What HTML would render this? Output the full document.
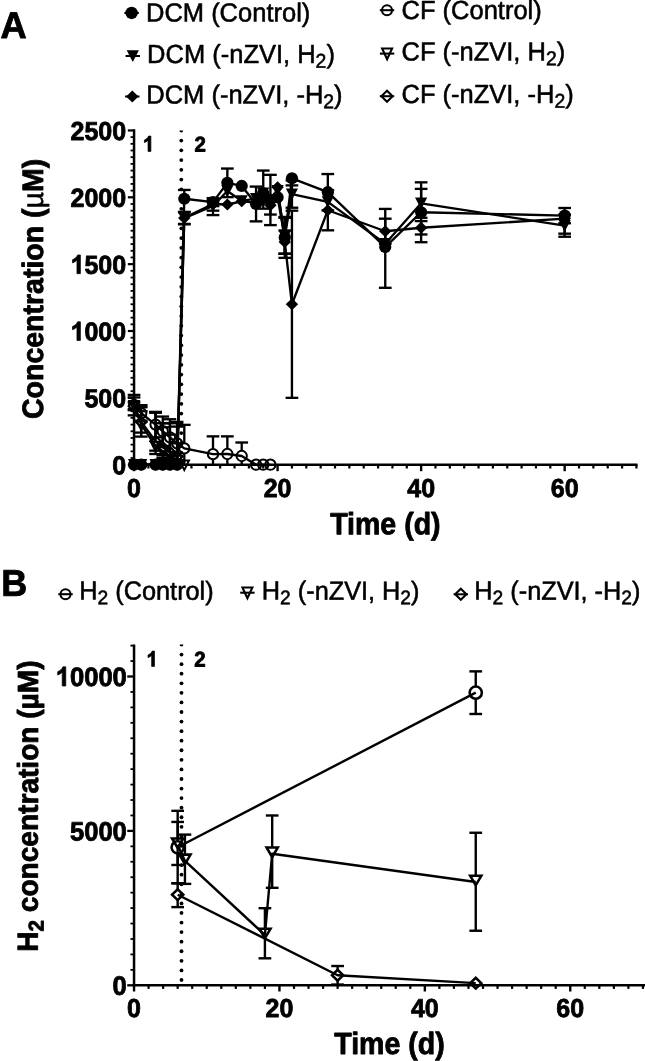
<!DOCTYPE html>
<html><head><meta charset="utf-8"><title>Figure</title>
<style>
html,body{margin:0;padding:0;background:#fff;}
body{width:645px;height:1061px;overflow:hidden;font-family:"Liberation Sans",sans-serif;}
svg{display:block;will-change:transform;}
</style></head><body>
<svg width="645" height="1061" viewBox="0 0 645 1061">
<rect width="645" height="1061" fill="#fff"/>
<text transform="translate(0.5,38) rotate(0.03) scale(1,1.03)" font-size="36.3" font-family="Liberation Sans, sans-serif" font-weight="bold" stroke="#000" stroke-width="0.8" stroke-linejoin="round" text-anchor="start" fill="#000" >A</text>
<text transform="translate(1.3,595.8) rotate(0.03) scale(1,1.03)" font-size="36.0" font-family="Liberation Sans, sans-serif" font-weight="bold" stroke="#000" stroke-width="0.8" stroke-linejoin="round" text-anchor="start" fill="#000" >B</text>
<line x1="124.4" y1="12.95" x2="138.8" y2="12.95" stroke="#000" stroke-width="2.05" />
<circle cx="131.6" cy="12.95" r="6.2" fill="#000"/>
<text transform="translate(146,21.5) rotate(0.03) scale(1,1.03)" font-size="25.5" font-family="Liberation Sans, sans-serif" fill="#000" stroke="#000" stroke-width="0.55" stroke-linejoin="round">DCM (Control)</text>
<line x1="125.6" y1="56" x2="140" y2="56" stroke="#000" stroke-width="2.05" />
<path d="M126.7 50.3L138.9 50.3L132.8 62Z" fill="#000"/>
<text transform="translate(147.1,62.9) rotate(0.03) scale(1,1.03)" font-size="25.5" font-family="Liberation Sans, sans-serif" fill="#000" stroke="#000" stroke-width="0.55" stroke-linejoin="round">DCM (-nZVI, H<tspan font-size="19.38" dy="4.59">2</tspan><tspan dy="-4.59">)</tspan></text>
<line x1="125.1" y1="96.5" x2="139.5" y2="96.5" stroke="#000" stroke-width="2.05" />
<path d="M126.1 96.5L132.3 90.4L138.5 96.5L132.3 102.6Z" fill="#000"/>
<text transform="translate(146.3,103.5) rotate(0.03) scale(1,1.03)" font-size="25.5" font-family="Liberation Sans, sans-serif" fill="#000" stroke="#000" stroke-width="0.55" stroke-linejoin="round">DCM (-nZVI, -H<tspan font-size="19.38" dy="4.59">2</tspan><tspan dy="-4.59">)</tspan></text>
<line x1="379.8" y1="10.2" x2="394.2" y2="10.2" stroke="#000" stroke-width="2.05" />
<circle cx="387" cy="10.2" r="5" fill="none" stroke="#000" stroke-width="2.05"/>
<text transform="translate(401.5,18.9) rotate(0.03) scale(1,1.03)" font-size="25.5" font-family="Liberation Sans, sans-serif" fill="#000" stroke="#000" stroke-width="0.55" stroke-linejoin="round">CF (Control)</text>
<line x1="379.9" y1="53.6" x2="394.3" y2="53.6" stroke="#000" stroke-width="2.05" />
<path d="M382.1 48.4L392.1 48.4L387.1 59.2Z" fill="none" stroke="#000" stroke-width="2.05"/>
<text transform="translate(401.5,60.5) rotate(0.03) scale(1,1.03)" font-size="25.5" font-family="Liberation Sans, sans-serif" fill="#000" stroke="#000" stroke-width="0.55" stroke-linejoin="round">CF (-nZVI, H<tspan font-size="19.38" dy="4.59">2</tspan><tspan dy="-4.59">)</tspan></text>
<line x1="379.8" y1="96.2" x2="394.2" y2="96.2" stroke="#000" stroke-width="2.05" />
<path d="M381.4 96.2L387 90.7L392.6 96.2L387 101.7Z" fill="none" stroke="#000" stroke-width="2.05"/>
<text transform="translate(401.5,103) rotate(0.03) scale(1,1.03)" font-size="25.5" font-family="Liberation Sans, sans-serif" fill="#000" stroke="#000" stroke-width="0.55" stroke-linejoin="round">CF (-nZVI, -H<tspan font-size="19.38" dy="4.59">2</tspan><tspan dy="-4.59">)</tspan></text>
<line x1="134.05" y1="129.25" x2="134.05" y2="465.95" stroke="#000" stroke-width="2.5" />
<line x1="132.8" y1="464.7" x2="637.54" y2="464.7" stroke="#000" stroke-width="2.5" />
<line x1="127.85" y1="464.7" x2="134.05" y2="464.7" stroke="#000" stroke-width="2.2" />
<line x1="130.55" y1="458.01" x2="134.05" y2="458.01" stroke="#000" stroke-width="1.8" />
<line x1="130.55" y1="451.33" x2="134.05" y2="451.33" stroke="#000" stroke-width="1.8" />
<line x1="130.55" y1="444.64" x2="134.05" y2="444.64" stroke="#000" stroke-width="1.8" />
<line x1="130.55" y1="437.96" x2="134.05" y2="437.96" stroke="#000" stroke-width="1.8" />
<line x1="130.55" y1="431.27" x2="134.05" y2="431.27" stroke="#000" stroke-width="1.8" />
<line x1="130.55" y1="424.59" x2="134.05" y2="424.59" stroke="#000" stroke-width="1.8" />
<line x1="130.55" y1="417.9" x2="134.05" y2="417.9" stroke="#000" stroke-width="1.8" />
<line x1="130.55" y1="411.22" x2="134.05" y2="411.22" stroke="#000" stroke-width="1.8" />
<line x1="130.55" y1="404.53" x2="134.05" y2="404.53" stroke="#000" stroke-width="1.8" />
<line x1="127.85" y1="397.85" x2="134.05" y2="397.85" stroke="#000" stroke-width="2.2" />
<line x1="130.55" y1="391.16" x2="134.05" y2="391.16" stroke="#000" stroke-width="1.8" />
<line x1="130.55" y1="384.48" x2="134.05" y2="384.48" stroke="#000" stroke-width="1.8" />
<line x1="130.55" y1="377.79" x2="134.05" y2="377.79" stroke="#000" stroke-width="1.8" />
<line x1="130.55" y1="371.11" x2="134.05" y2="371.11" stroke="#000" stroke-width="1.8" />
<line x1="130.55" y1="364.42" x2="134.05" y2="364.42" stroke="#000" stroke-width="1.8" />
<line x1="130.55" y1="357.74" x2="134.05" y2="357.74" stroke="#000" stroke-width="1.8" />
<line x1="130.55" y1="351.05" x2="134.05" y2="351.05" stroke="#000" stroke-width="1.8" />
<line x1="130.55" y1="344.37" x2="134.05" y2="344.37" stroke="#000" stroke-width="1.8" />
<line x1="130.55" y1="337.68" x2="134.05" y2="337.68" stroke="#000" stroke-width="1.8" />
<line x1="127.85" y1="331" x2="134.05" y2="331" stroke="#000" stroke-width="2.2" />
<line x1="130.55" y1="324.31" x2="134.05" y2="324.31" stroke="#000" stroke-width="1.8" />
<line x1="130.55" y1="317.63" x2="134.05" y2="317.63" stroke="#000" stroke-width="1.8" />
<line x1="130.55" y1="310.94" x2="134.05" y2="310.94" stroke="#000" stroke-width="1.8" />
<line x1="130.55" y1="304.26" x2="134.05" y2="304.26" stroke="#000" stroke-width="1.8" />
<line x1="130.55" y1="297.57" x2="134.05" y2="297.57" stroke="#000" stroke-width="1.8" />
<line x1="130.55" y1="290.89" x2="134.05" y2="290.89" stroke="#000" stroke-width="1.8" />
<line x1="130.55" y1="284.2" x2="134.05" y2="284.2" stroke="#000" stroke-width="1.8" />
<line x1="130.55" y1="277.52" x2="134.05" y2="277.52" stroke="#000" stroke-width="1.8" />
<line x1="130.55" y1="270.83" x2="134.05" y2="270.83" stroke="#000" stroke-width="1.8" />
<line x1="127.85" y1="264.15" x2="134.05" y2="264.15" stroke="#000" stroke-width="2.2" />
<line x1="130.55" y1="257.46" x2="134.05" y2="257.46" stroke="#000" stroke-width="1.8" />
<line x1="130.55" y1="250.78" x2="134.05" y2="250.78" stroke="#000" stroke-width="1.8" />
<line x1="130.55" y1="244.09" x2="134.05" y2="244.09" stroke="#000" stroke-width="1.8" />
<line x1="130.55" y1="237.41" x2="134.05" y2="237.41" stroke="#000" stroke-width="1.8" />
<line x1="130.55" y1="230.72" x2="134.05" y2="230.72" stroke="#000" stroke-width="1.8" />
<line x1="130.55" y1="224.04" x2="134.05" y2="224.04" stroke="#000" stroke-width="1.8" />
<line x1="130.55" y1="217.35" x2="134.05" y2="217.35" stroke="#000" stroke-width="1.8" />
<line x1="130.55" y1="210.67" x2="134.05" y2="210.67" stroke="#000" stroke-width="1.8" />
<line x1="130.55" y1="203.98" x2="134.05" y2="203.98" stroke="#000" stroke-width="1.8" />
<line x1="127.85" y1="197.3" x2="134.05" y2="197.3" stroke="#000" stroke-width="2.2" />
<line x1="130.55" y1="190.61" x2="134.05" y2="190.61" stroke="#000" stroke-width="1.8" />
<line x1="130.55" y1="183.93" x2="134.05" y2="183.93" stroke="#000" stroke-width="1.8" />
<line x1="130.55" y1="177.24" x2="134.05" y2="177.24" stroke="#000" stroke-width="1.8" />
<line x1="130.55" y1="170.56" x2="134.05" y2="170.56" stroke="#000" stroke-width="1.8" />
<line x1="130.55" y1="163.87" x2="134.05" y2="163.87" stroke="#000" stroke-width="1.8" />
<line x1="130.55" y1="157.19" x2="134.05" y2="157.19" stroke="#000" stroke-width="1.8" />
<line x1="130.55" y1="150.5" x2="134.05" y2="150.5" stroke="#000" stroke-width="1.8" />
<line x1="130.55" y1="143.82" x2="134.05" y2="143.82" stroke="#000" stroke-width="1.8" />
<line x1="130.55" y1="137.13" x2="134.05" y2="137.13" stroke="#000" stroke-width="1.8" />
<line x1="127.85" y1="130.45" x2="134.05" y2="130.45" stroke="#000" stroke-width="2.2" />
<line x1="134.05" y1="464.7" x2="134.05" y2="471.2" stroke="#000" stroke-width="2.4" />
<line x1="148.4" y1="464.7" x2="148.4" y2="468.5" stroke="#000" stroke-width="2.2" />
<line x1="162.76" y1="464.7" x2="162.76" y2="468.5" stroke="#000" stroke-width="2.2" />
<line x1="177.11" y1="464.7" x2="177.11" y2="468.5" stroke="#000" stroke-width="2.2" />
<line x1="191.47" y1="464.7" x2="191.47" y2="468.5" stroke="#000" stroke-width="2.2" />
<line x1="205.82" y1="464.7" x2="205.82" y2="468.5" stroke="#000" stroke-width="2.2" />
<line x1="220.17" y1="464.7" x2="220.17" y2="468.5" stroke="#000" stroke-width="2.2" />
<line x1="234.53" y1="464.7" x2="234.53" y2="468.5" stroke="#000" stroke-width="2.2" />
<line x1="248.88" y1="464.7" x2="248.88" y2="468.5" stroke="#000" stroke-width="2.2" />
<line x1="263.24" y1="464.7" x2="263.24" y2="468.5" stroke="#000" stroke-width="2.2" />
<line x1="277.59" y1="464.7" x2="277.59" y2="471.2" stroke="#000" stroke-width="2.4" />
<line x1="291.94" y1="464.7" x2="291.94" y2="468.5" stroke="#000" stroke-width="2.2" />
<line x1="306.3" y1="464.7" x2="306.3" y2="468.5" stroke="#000" stroke-width="2.2" />
<line x1="320.65" y1="464.7" x2="320.65" y2="468.5" stroke="#000" stroke-width="2.2" />
<line x1="335.01" y1="464.7" x2="335.01" y2="468.5" stroke="#000" stroke-width="2.2" />
<line x1="349.36" y1="464.7" x2="349.36" y2="468.5" stroke="#000" stroke-width="2.2" />
<line x1="363.71" y1="464.7" x2="363.71" y2="468.5" stroke="#000" stroke-width="2.2" />
<line x1="378.07" y1="464.7" x2="378.07" y2="468.5" stroke="#000" stroke-width="2.2" />
<line x1="392.42" y1="464.7" x2="392.42" y2="468.5" stroke="#000" stroke-width="2.2" />
<line x1="406.78" y1="464.7" x2="406.78" y2="468.5" stroke="#000" stroke-width="2.2" />
<line x1="421.13" y1="464.7" x2="421.13" y2="471.2" stroke="#000" stroke-width="2.4" />
<line x1="435.48" y1="464.7" x2="435.48" y2="468.5" stroke="#000" stroke-width="2.2" />
<line x1="449.84" y1="464.7" x2="449.84" y2="468.5" stroke="#000" stroke-width="2.2" />
<line x1="464.19" y1="464.7" x2="464.19" y2="468.5" stroke="#000" stroke-width="2.2" />
<line x1="478.55" y1="464.7" x2="478.55" y2="468.5" stroke="#000" stroke-width="2.2" />
<line x1="492.9" y1="464.7" x2="492.9" y2="468.5" stroke="#000" stroke-width="2.2" />
<line x1="507.25" y1="464.7" x2="507.25" y2="468.5" stroke="#000" stroke-width="2.2" />
<line x1="521.61" y1="464.7" x2="521.61" y2="468.5" stroke="#000" stroke-width="2.2" />
<line x1="535.96" y1="464.7" x2="535.96" y2="468.5" stroke="#000" stroke-width="2.2" />
<line x1="550.32" y1="464.7" x2="550.32" y2="468.5" stroke="#000" stroke-width="2.2" />
<line x1="564.67" y1="464.7" x2="564.67" y2="471.2" stroke="#000" stroke-width="2.4" />
<line x1="579.02" y1="464.7" x2="579.02" y2="468.5" stroke="#000" stroke-width="2.2" />
<line x1="593.38" y1="464.7" x2="593.38" y2="468.5" stroke="#000" stroke-width="2.2" />
<line x1="607.73" y1="464.7" x2="607.73" y2="468.5" stroke="#000" stroke-width="2.2" />
<line x1="622.09" y1="464.7" x2="622.09" y2="468.5" stroke="#000" stroke-width="2.2" />
<line x1="636.44" y1="464.7" x2="636.44" y2="468.5" stroke="#000" stroke-width="2.2" />
<text transform="translate(112.25,474.2) rotate(0.03) scale(1,1.04)" font-size="25.0" font-family="Liberation Sans, sans-serif" font-weight="bold" stroke="#000" stroke-width="0.8" stroke-linejoin="round" text-anchor="start" fill="#000">0</text>
<text transform="translate(84.45,407.35) rotate(0.03) scale(1,1.04)" font-size="25.0" font-family="Liberation Sans, sans-serif" font-weight="bold" stroke="#000" stroke-width="0.8" stroke-linejoin="round" text-anchor="start" fill="#000">500</text>
<path transform="translate(70.55,340.5) scale(0.01221,-0.01270)" d="M806 0H525V1059Q371 915 162 846V1101Q272 1137 401 1237.5T578 1472H806Z" fill="#000" stroke="#000" stroke-width="57.3" stroke-linejoin="round"/>
<text transform="translate(84.45,340.5) rotate(0.03) scale(1,1.04)" font-size="25.0" font-family="Liberation Sans, sans-serif" font-weight="bold" stroke="#000" stroke-width="0.8" stroke-linejoin="round" text-anchor="start" fill="#000">000</text>
<path transform="translate(70.55,273.65) scale(0.01221,-0.01270)" d="M806 0H525V1059Q371 915 162 846V1101Q272 1137 401 1237.5T578 1472H806Z" fill="#000" stroke="#000" stroke-width="57.3" stroke-linejoin="round"/>
<text transform="translate(84.45,273.65) rotate(0.03) scale(1,1.04)" font-size="25.0" font-family="Liberation Sans, sans-serif" font-weight="bold" stroke="#000" stroke-width="0.8" stroke-linejoin="round" text-anchor="start" fill="#000">500</text>
<text transform="translate(70.55,206.8) rotate(0.03) scale(1,1.04)" font-size="25.0" font-family="Liberation Sans, sans-serif" font-weight="bold" stroke="#000" stroke-width="0.8" stroke-linejoin="round" text-anchor="start" fill="#000">2000</text>
<text transform="translate(70.55,139.95) rotate(0.03) scale(1,1.04)" font-size="25.0" font-family="Liberation Sans, sans-serif" font-weight="bold" stroke="#000" stroke-width="0.8" stroke-linejoin="round" text-anchor="start" fill="#000">2500</text>
<text transform="translate(127.1,497) rotate(0.03) scale(1,1.04)" font-size="25.0" font-family="Liberation Sans, sans-serif" font-weight="bold" stroke="#000" stroke-width="0.8" stroke-linejoin="round" text-anchor="start" fill="#000">0</text>
<text transform="translate(263.69,497) rotate(0.03) scale(1,1.04)" font-size="25.0" font-family="Liberation Sans, sans-serif" font-weight="bold" stroke="#000" stroke-width="0.8" stroke-linejoin="round" text-anchor="start" fill="#000">20</text>
<text transform="translate(407.23,497) rotate(0.03) scale(1,1.04)" font-size="25.0" font-family="Liberation Sans, sans-serif" font-weight="bold" stroke="#000" stroke-width="0.8" stroke-linejoin="round" text-anchor="start" fill="#000">40</text>
<text transform="translate(550.77,497) rotate(0.03) scale(1,1.04)" font-size="25.0" font-family="Liberation Sans, sans-serif" font-weight="bold" stroke="#000" stroke-width="0.8" stroke-linejoin="round" text-anchor="start" fill="#000">60</text>
<text transform="translate(385.35,534.3) rotate(0.03) scale(1,1.075)" font-size="28.55" font-family="Liberation Sans, sans-serif" font-weight="bold" stroke="#000" stroke-width="0.8" stroke-linejoin="round" text-anchor="middle" fill="#000" >Time (d)</text>
<text transform="translate(43,419) rotate(-89.97) scale(1,1.035)" font-size="28.5" font-family="Liberation Sans, sans-serif" font-weight="bold" stroke="#000" stroke-width="0.8" stroke-linejoin="round" text-anchor="start" fill="#000">Concentration (<tspan font-weight="normal" stroke-width="0.45">µ</tspan>M)</text>
<path d="M179.4 130.6L183.2 130.6A1.9 1.9 0 0 1 179.4 130.6Z" fill="#000"/>
<circle cx="181.3" cy="140.55" r="1.9" fill="#000"/>
<circle cx="181.3" cy="150.3" r="1.9" fill="#000"/>
<circle cx="181.3" cy="160.05" r="1.9" fill="#000"/>
<circle cx="181.3" cy="169.8" r="1.9" fill="#000"/>
<circle cx="181.3" cy="179.55" r="1.9" fill="#000"/>
<circle cx="181.3" cy="189.3" r="1.9" fill="#000"/>
<circle cx="181.3" cy="199.05" r="1.9" fill="#000"/>
<circle cx="181.3" cy="208.8" r="1.9" fill="#000"/>
<circle cx="181.3" cy="218.55" r="1.9" fill="#000"/>
<circle cx="181.3" cy="228.3" r="1.9" fill="#000"/>
<circle cx="181.3" cy="238.05" r="1.9" fill="#000"/>
<circle cx="181.3" cy="247.8" r="1.9" fill="#000"/>
<circle cx="181.3" cy="257.55" r="1.9" fill="#000"/>
<circle cx="181.3" cy="267.3" r="1.9" fill="#000"/>
<circle cx="181.3" cy="277.05" r="1.9" fill="#000"/>
<circle cx="181.3" cy="286.8" r="1.9" fill="#000"/>
<circle cx="181.3" cy="296.55" r="1.9" fill="#000"/>
<circle cx="181.3" cy="306.3" r="1.9" fill="#000"/>
<circle cx="181.3" cy="316.05" r="1.9" fill="#000"/>
<circle cx="181.3" cy="325.8" r="1.9" fill="#000"/>
<circle cx="181.3" cy="335.55" r="1.9" fill="#000"/>
<circle cx="181.3" cy="345.3" r="1.9" fill="#000"/>
<circle cx="181.3" cy="355.05" r="1.9" fill="#000"/>
<circle cx="181.3" cy="364.8" r="1.9" fill="#000"/>
<circle cx="181.3" cy="374.55" r="1.9" fill="#000"/>
<circle cx="181.3" cy="384.3" r="1.9" fill="#000"/>
<circle cx="181.3" cy="394.05" r="1.9" fill="#000"/>
<circle cx="181.3" cy="403.8" r="1.9" fill="#000"/>
<circle cx="181.3" cy="413.55" r="1.9" fill="#000"/>
<circle cx="181.3" cy="423.3" r="1.9" fill="#000"/>
<circle cx="181.3" cy="433.05" r="1.9" fill="#000"/>
<circle cx="181.3" cy="442.8" r="1.9" fill="#000"/>
<circle cx="181.3" cy="452.55" r="1.9" fill="#000"/>
<circle cx="181.3" cy="462.3" r="1.9" fill="#000"/>
<path transform="translate(142.8,151.4) scale(0.01001,-0.01041)" d="M806 0H525V1059Q371 915 162 846V1101Q272 1137 401 1237.5T578 1472H806Z" fill="#000" stroke="#000" stroke-width="69.9" stroke-linejoin="round"/>
<text transform="translate(194.5,151.4) rotate(0.03) scale(1,1.04)" font-size="20.5" font-family="Liberation Sans, sans-serif" font-weight="bold" stroke="#000" stroke-width="0.8" stroke-linejoin="round" text-anchor="start" fill="#000" >2</text>
<line x1="184.29" y1="198.77" x2="184.29" y2="189.95" stroke="#000" stroke-width="2.35" />
<line x1="177.94" y1="189.95" x2="190.64" y2="189.95" stroke="#000" stroke-width="2.35" />
<line x1="213" y1="202.11" x2="213" y2="198.1" stroke="#000" stroke-width="2.35" />
<line x1="206.65" y1="198.1" x2="219.35" y2="198.1" stroke="#000" stroke-width="2.35" />
<line x1="213" y1="202.11" x2="213" y2="206.12" stroke="#000" stroke-width="2.35" />
<line x1="206.65" y1="206.12" x2="219.35" y2="206.12" stroke="#000" stroke-width="2.35" />
<line x1="227.35" y1="182.86" x2="227.35" y2="168.55" stroke="#000" stroke-width="2.35" />
<line x1="221" y1="168.55" x2="233.7" y2="168.55" stroke="#000" stroke-width="2.35" />
<line x1="227.35" y1="182.86" x2="227.35" y2="197.17" stroke="#000" stroke-width="2.35" />
<line x1="221" y1="197.17" x2="233.7" y2="197.17" stroke="#000" stroke-width="2.35" />
<line x1="256.06" y1="203.98" x2="256.06" y2="186.6" stroke="#000" stroke-width="2.35" />
<line x1="249.71" y1="186.6" x2="262.41" y2="186.6" stroke="#000" stroke-width="2.35" />
<line x1="256.06" y1="203.98" x2="256.06" y2="221.37" stroke="#000" stroke-width="2.35" />
<line x1="249.71" y1="221.37" x2="262.41" y2="221.37" stroke="#000" stroke-width="2.35" />
<line x1="263.24" y1="193.29" x2="263.24" y2="170.56" stroke="#000" stroke-width="2.35" />
<line x1="256.89" y1="170.56" x2="269.59" y2="170.56" stroke="#000" stroke-width="2.35" />
<line x1="263.24" y1="193.29" x2="263.24" y2="208.66" stroke="#000" stroke-width="2.35" />
<line x1="256.89" y1="208.66" x2="269.59" y2="208.66" stroke="#000" stroke-width="2.35" />
<line x1="270.41" y1="199.97" x2="270.41" y2="174.84" stroke="#000" stroke-width="2.35" />
<line x1="264.06" y1="174.84" x2="276.76" y2="174.84" stroke="#000" stroke-width="2.35" />
<line x1="270.41" y1="199.97" x2="270.41" y2="225.11" stroke="#000" stroke-width="2.35" />
<line x1="264.06" y1="225.11" x2="276.76" y2="225.11" stroke="#000" stroke-width="2.35" />
<line x1="284.77" y1="237.41" x2="284.77" y2="216.95" stroke="#000" stroke-width="2.35" />
<line x1="278.42" y1="216.95" x2="291.12" y2="216.95" stroke="#000" stroke-width="2.35" />
<line x1="284.77" y1="237.41" x2="284.77" y2="257.87" stroke="#000" stroke-width="2.35" />
<line x1="278.42" y1="257.87" x2="291.12" y2="257.87" stroke="#000" stroke-width="2.35" />
<line x1="291.94" y1="178.31" x2="291.94" y2="185.4" stroke="#000" stroke-width="2.35" />
<line x1="285.59" y1="185.4" x2="298.29" y2="185.4" stroke="#000" stroke-width="2.35" />
<line x1="327.83" y1="192.22" x2="327.83" y2="174.04" stroke="#000" stroke-width="2.35" />
<line x1="321.48" y1="174.04" x2="334.18" y2="174.04" stroke="#000" stroke-width="2.35" />
<line x1="327.83" y1="192.22" x2="327.83" y2="210.4" stroke="#000" stroke-width="2.35" />
<line x1="321.48" y1="210.4" x2="334.18" y2="210.4" stroke="#000" stroke-width="2.35" />
<line x1="385.25" y1="247.04" x2="385.25" y2="208.93" stroke="#000" stroke-width="2.35" />
<line x1="378.89" y1="208.93" x2="391.6" y2="208.93" stroke="#000" stroke-width="2.35" />
<line x1="385.25" y1="247.04" x2="385.25" y2="287.81" stroke="#000" stroke-width="2.35" />
<line x1="378.89" y1="287.81" x2="391.6" y2="287.81" stroke="#000" stroke-width="2.35" />
<line x1="421.13" y1="212.27" x2="421.13" y2="182.33" stroke="#000" stroke-width="2.35" />
<line x1="414.78" y1="182.33" x2="427.48" y2="182.33" stroke="#000" stroke-width="2.35" />
<line x1="421.13" y1="212.27" x2="421.13" y2="242.22" stroke="#000" stroke-width="2.35" />
<line x1="414.78" y1="242.22" x2="427.48" y2="242.22" stroke="#000" stroke-width="2.35" />
<line x1="564.67" y1="215.62" x2="564.67" y2="208" stroke="#000" stroke-width="2.35" />
<line x1="558.32" y1="208" x2="571.02" y2="208" stroke="#000" stroke-width="2.35" />
<line x1="564.67" y1="215.62" x2="564.67" y2="223.24" stroke="#000" stroke-width="2.35" />
<line x1="558.32" y1="223.24" x2="571.02" y2="223.24" stroke="#000" stroke-width="2.35" />
<circle cx="134.05" cy="464.7" r="6.1" fill="#000"/>
<circle cx="141.23" cy="464.7" r="6.1" fill="#000"/>
<circle cx="155.58" cy="464.7" r="6.1" fill="#000"/>
<circle cx="162.76" cy="464.7" r="6.1" fill="#000"/>
<circle cx="169.94" cy="464.7" r="6.1" fill="#000"/>
<circle cx="177.11" cy="464.7" r="6.1" fill="#000"/>
<circle cx="184.29" cy="198.77" r="6.1" fill="#000"/>
<circle cx="213" cy="202.11" r="6.1" fill="#000"/>
<circle cx="227.35" cy="182.86" r="6.1" fill="#000"/>
<circle cx="241.71" cy="185.94" r="6.1" fill="#000"/>
<circle cx="256.06" cy="203.98" r="6.1" fill="#000"/>
<circle cx="263.24" cy="193.29" r="6.1" fill="#000"/>
<circle cx="270.41" cy="199.97" r="6.1" fill="#000"/>
<circle cx="277.59" cy="197.3" r="6.1" fill="#000"/>
<circle cx="284.77" cy="237.41" r="6.1" fill="#000"/>
<circle cx="291.94" cy="178.31" r="6.1" fill="#000"/>
<circle cx="327.83" cy="192.22" r="6.1" fill="#000"/>
<circle cx="385.25" cy="247.04" r="6.1" fill="#000"/>
<circle cx="421.13" cy="212.27" r="6.1" fill="#000"/>
<circle cx="564.67" cy="215.62" r="6.1" fill="#000"/>
<polyline fill="none" stroke="#000" stroke-width="2.35" stroke-linejoin="round" points="134.05,464.7 141.23,464.7 155.58,464.7 162.76,464.7 169.94,464.7 177.11,464.7 184.29,198.77 213,202.11 227.35,182.86 241.71,185.94 256.06,203.98 263.24,193.29 270.41,199.97 277.59,197.3 284.77,237.41 291.94,178.31 327.83,192.22 385.25,247.04 421.13,212.27 564.67,215.62"/>
<line x1="184.29" y1="218.29" x2="184.29" y2="212.27" stroke="#000" stroke-width="2.35" />
<line x1="177.94" y1="212.27" x2="190.64" y2="212.27" stroke="#000" stroke-width="2.35" />
<line x1="184.29" y1="218.29" x2="184.29" y2="224.31" stroke="#000" stroke-width="2.35" />
<line x1="177.94" y1="224.31" x2="190.64" y2="224.31" stroke="#000" stroke-width="2.35" />
<line x1="213" y1="205.99" x2="213" y2="201.98" stroke="#000" stroke-width="2.35" />
<line x1="206.65" y1="201.98" x2="219.35" y2="201.98" stroke="#000" stroke-width="2.35" />
<line x1="213" y1="205.99" x2="213" y2="215.08" stroke="#000" stroke-width="2.35" />
<line x1="206.65" y1="215.08" x2="219.35" y2="215.08" stroke="#000" stroke-width="2.35" />
<line x1="270.41" y1="202.65" x2="270.41" y2="214.55" stroke="#000" stroke-width="2.35" />
<line x1="264.06" y1="214.55" x2="276.76" y2="214.55" stroke="#000" stroke-width="2.35" />
<line x1="284.77" y1="236.47" x2="284.77" y2="217.76" stroke="#000" stroke-width="2.35" />
<line x1="278.42" y1="217.76" x2="291.12" y2="217.76" stroke="#000" stroke-width="2.35" />
<line x1="284.77" y1="236.47" x2="284.77" y2="253.72" stroke="#000" stroke-width="2.35" />
<line x1="278.42" y1="253.72" x2="291.12" y2="253.72" stroke="#000" stroke-width="2.35" />
<line x1="291.94" y1="194.09" x2="291.94" y2="180.45" stroke="#000" stroke-width="2.35" />
<line x1="285.59" y1="180.45" x2="298.29" y2="180.45" stroke="#000" stroke-width="2.35" />
<line x1="291.94" y1="194.09" x2="291.94" y2="207.73" stroke="#000" stroke-width="2.35" />
<line x1="285.59" y1="207.73" x2="298.29" y2="207.73" stroke="#000" stroke-width="2.35" />
<line x1="421.13" y1="203.32" x2="421.13" y2="188.88" stroke="#000" stroke-width="2.35" />
<line x1="414.78" y1="188.88" x2="427.48" y2="188.88" stroke="#000" stroke-width="2.35" />
<line x1="421.13" y1="203.32" x2="421.13" y2="217.76" stroke="#000" stroke-width="2.35" />
<line x1="414.78" y1="217.76" x2="427.48" y2="217.76" stroke="#000" stroke-width="2.35" />
<line x1="564.67" y1="225.64" x2="564.67" y2="214.55" stroke="#000" stroke-width="2.35" />
<line x1="558.32" y1="214.55" x2="571.02" y2="214.55" stroke="#000" stroke-width="2.35" />
<line x1="564.67" y1="225.64" x2="564.67" y2="236.74" stroke="#000" stroke-width="2.35" />
<line x1="558.32" y1="236.74" x2="571.02" y2="236.74" stroke="#000" stroke-width="2.35" />
<path d="M127.95 459L140.15 459L134.05 470.7Z" fill="#000"/>
<path d="M135.13 459L147.33 459L141.23 470.7Z" fill="#000"/>
<path d="M149.48 459L161.68 459L155.58 470.7Z" fill="#000"/>
<path d="M156.66 459L168.86 459L162.76 470.7Z" fill="#000"/>
<path d="M163.84 459L176.03 459L169.94 470.7Z" fill="#000"/>
<path d="M171.01 459L183.21 459L177.11 470.7Z" fill="#000"/>
<path d="M178.19 212.59L190.39 212.59L184.29 224.29Z" fill="#000"/>
<path d="M206.9 200.29L219.1 200.29L213 211.99Z" fill="#000"/>
<path d="M221.25 185.32L233.45 185.32L227.35 197.02Z" fill="#000"/>
<path d="M235.61 195.21L247.81 195.21L241.71 206.91Z" fill="#000"/>
<path d="M249.96 192.94L262.16 192.94L256.06 204.64Z" fill="#000"/>
<path d="M257.14 187.59L269.34 187.59L263.24 199.29Z" fill="#000"/>
<path d="M264.31 196.95L276.51 196.95L270.41 208.65Z" fill="#000"/>
<path d="M271.49 184.91L283.69 184.91L277.59 196.61Z" fill="#000"/>
<path d="M278.67 230.77L290.87 230.77L284.77 242.47Z" fill="#000"/>
<path d="M285.84 188.39L298.04 188.39L291.94 200.09Z" fill="#000"/>
<path d="M321.73 196.15L333.93 196.15L327.83 207.85Z" fill="#000"/>
<path d="M379.14 237.99L391.35 237.99L385.25 249.69Z" fill="#000"/>
<path d="M415.03 197.62L427.23 197.62L421.13 209.32Z" fill="#000"/>
<path d="M558.57 219.94L570.77 219.94L564.67 231.64Z" fill="#000"/>
<polyline fill="none" stroke="#000" stroke-width="2.35" stroke-linejoin="round" points="134.05,464.7 141.23,464.7 155.58,464.7 162.76,464.7 169.94,464.7 177.11,464.7 184.29,218.29 213,205.99 227.35,191.02 241.71,200.91 256.06,198.64 263.24,193.29 270.41,202.65 277.59,190.61 284.77,236.47 291.94,194.09 327.83,201.85 385.25,243.69 421.13,203.32 564.67,225.64"/>
<line x1="184.29" y1="217.89" x2="184.29" y2="211.87" stroke="#000" stroke-width="2.35" />
<line x1="177.94" y1="211.87" x2="190.64" y2="211.87" stroke="#000" stroke-width="2.35" />
<line x1="184.29" y1="217.89" x2="184.29" y2="223.91" stroke="#000" stroke-width="2.35" />
<line x1="177.94" y1="223.91" x2="190.64" y2="223.91" stroke="#000" stroke-width="2.35" />
<line x1="213" y1="203.98" x2="213" y2="199.97" stroke="#000" stroke-width="2.35" />
<line x1="206.65" y1="199.97" x2="219.35" y2="199.97" stroke="#000" stroke-width="2.35" />
<line x1="213" y1="203.98" x2="213" y2="210.67" stroke="#000" stroke-width="2.35" />
<line x1="206.65" y1="210.67" x2="219.35" y2="210.67" stroke="#000" stroke-width="2.35" />
<line x1="284.77" y1="242.09" x2="284.77" y2="230.46" stroke="#000" stroke-width="2.35" />
<line x1="278.42" y1="230.46" x2="291.12" y2="230.46" stroke="#000" stroke-width="2.35" />
<line x1="284.77" y1="242.09" x2="284.77" y2="253.72" stroke="#000" stroke-width="2.35" />
<line x1="278.42" y1="253.72" x2="291.12" y2="253.72" stroke="#000" stroke-width="2.35" />
<line x1="291.94" y1="304.26" x2="291.94" y2="210.67" stroke="#000" stroke-width="2.35" />
<line x1="285.59" y1="210.67" x2="298.29" y2="210.67" stroke="#000" stroke-width="2.35" />
<line x1="291.94" y1="304.26" x2="291.94" y2="397.85" stroke="#000" stroke-width="2.35" />
<line x1="285.59" y1="397.85" x2="298.29" y2="397.85" stroke="#000" stroke-width="2.35" />
<line x1="327.83" y1="210.27" x2="327.83" y2="190.21" stroke="#000" stroke-width="2.35" />
<line x1="321.48" y1="190.21" x2="334.18" y2="190.21" stroke="#000" stroke-width="2.35" />
<line x1="327.83" y1="210.27" x2="327.83" y2="230.32" stroke="#000" stroke-width="2.35" />
<line x1="321.48" y1="230.32" x2="334.18" y2="230.32" stroke="#000" stroke-width="2.35" />
<line x1="385.25" y1="231.26" x2="385.25" y2="218.69" stroke="#000" stroke-width="2.35" />
<line x1="378.89" y1="218.69" x2="391.6" y2="218.69" stroke="#000" stroke-width="2.35" />
<line x1="385.25" y1="231.26" x2="385.25" y2="243.83" stroke="#000" stroke-width="2.35" />
<line x1="378.89" y1="243.83" x2="391.6" y2="243.83" stroke="#000" stroke-width="2.35" />
<line x1="421.13" y1="227.78" x2="421.13" y2="221.1" stroke="#000" stroke-width="2.35" />
<line x1="414.78" y1="221.1" x2="427.48" y2="221.1" stroke="#000" stroke-width="2.35" />
<line x1="421.13" y1="227.78" x2="421.13" y2="234.47" stroke="#000" stroke-width="2.35" />
<line x1="414.78" y1="234.47" x2="427.48" y2="234.47" stroke="#000" stroke-width="2.35" />
<line x1="564.67" y1="218.69" x2="564.67" y2="233.67" stroke="#000" stroke-width="2.35" />
<line x1="558.32" y1="233.67" x2="571.02" y2="233.67" stroke="#000" stroke-width="2.35" />
<path d="M127.85 464.7L134.05 458.7L140.25 464.7L134.05 470.7Z" fill="#000"/>
<path d="M135.03 464.7L141.23 458.7L147.43 464.7L141.23 470.7Z" fill="#000"/>
<path d="M149.38 464.7L155.58 458.7L161.78 464.7L155.58 470.7Z" fill="#000"/>
<path d="M156.56 464.7L162.76 458.7L168.96 464.7L162.76 470.7Z" fill="#000"/>
<path d="M163.74 464.7L169.94 458.7L176.13 464.7L169.94 470.7Z" fill="#000"/>
<path d="M170.91 464.7L177.11 458.7L183.31 464.7L177.11 470.7Z" fill="#000"/>
<path d="M178.09 217.89L184.29 211.89L190.49 217.89L184.29 223.89Z" fill="#000"/>
<path d="M206.8 203.98L213 197.98L219.2 203.98L213 209.98Z" fill="#000"/>
<path d="M221.15 204.52L227.35 198.52L233.55 204.52L227.35 210.52Z" fill="#000"/>
<path d="M235.51 201.31L241.71 195.31L247.91 201.31L241.71 207.31Z" fill="#000"/>
<path d="M249.86 202.65L256.06 196.65L262.26 202.65L256.06 208.65Z" fill="#000"/>
<path d="M257.04 199.97L263.24 193.97L269.44 199.97L263.24 205.97Z" fill="#000"/>
<path d="M264.21 205.32L270.41 199.32L276.61 205.32L270.41 211.32Z" fill="#000"/>
<path d="M271.39 187.27L277.59 181.27L283.79 187.27L277.59 193.27Z" fill="#000"/>
<path d="M278.57 242.09L284.77 236.09L290.97 242.09L284.77 248.09Z" fill="#000"/>
<path d="M285.74 304.26L291.94 298.26L298.14 304.26L291.94 310.26Z" fill="#000"/>
<path d="M321.63 210.27L327.83 204.27L334.03 210.27L327.83 216.27Z" fill="#000"/>
<path d="M379.05 231.26L385.25 225.26L391.44 231.26L385.25 237.26Z" fill="#000"/>
<path d="M414.93 227.78L421.13 221.78L427.33 227.78L421.13 233.78Z" fill="#000"/>
<path d="M558.47 218.69L564.67 212.69L570.87 218.69L564.67 224.69Z" fill="#000"/>
<polyline fill="none" stroke="#000" stroke-width="2.35" stroke-linejoin="round" points="134.05,464.7 141.23,464.7 155.58,464.7 162.76,464.7 169.94,464.7 177.11,464.7 184.29,217.89 213,203.98 227.35,204.52 241.71,201.31 256.06,202.65 263.24,199.97 270.41,205.32 277.59,187.27 284.77,242.09 291.94,304.26 327.83,210.27 385.25,231.26 421.13,227.78 564.67,218.69"/>
<line x1="134.05" y1="399.79" x2="134.05" y2="394.91" stroke="#000" stroke-width="2.35" />
<line x1="127.7" y1="394.91" x2="140.4" y2="394.91" stroke="#000" stroke-width="2.35" />
<line x1="134.05" y1="410.09" x2="134.05" y2="415.36" stroke="#000" stroke-width="2.35" />
<line x1="127.7" y1="415.36" x2="140.4" y2="415.36" stroke="#000" stroke-width="2.35" />
<line x1="141.23" y1="408.08" x2="141.23" y2="405.2" stroke="#000" stroke-width="2.35" />
<line x1="134.88" y1="405.2" x2="147.58" y2="405.2" stroke="#000" stroke-width="2.35" />
<line x1="141.23" y1="418.38" x2="141.23" y2="421.25" stroke="#000" stroke-width="2.35" />
<line x1="134.88" y1="421.25" x2="147.58" y2="421.25" stroke="#000" stroke-width="2.35" />
<line x1="155.58" y1="419.44" x2="155.58" y2="411.89" stroke="#000" stroke-width="2.35" />
<line x1="149.23" y1="411.89" x2="161.93" y2="411.89" stroke="#000" stroke-width="2.35" />
<line x1="155.58" y1="429.74" x2="155.58" y2="437.29" stroke="#000" stroke-width="2.35" />
<line x1="149.23" y1="437.29" x2="161.93" y2="437.29" stroke="#000" stroke-width="2.35" />
<line x1="162.76" y1="426.12" x2="162.76" y2="416.57" stroke="#000" stroke-width="2.35" />
<line x1="156.41" y1="416.57" x2="169.11" y2="416.57" stroke="#000" stroke-width="2.35" />
<line x1="162.76" y1="436.42" x2="162.76" y2="445.98" stroke="#000" stroke-width="2.35" />
<line x1="156.41" y1="445.98" x2="169.11" y2="445.98" stroke="#000" stroke-width="2.35" />
<line x1="169.94" y1="432.14" x2="169.94" y2="419.24" stroke="#000" stroke-width="2.35" />
<line x1="163.59" y1="419.24" x2="176.28" y2="419.24" stroke="#000" stroke-width="2.35" />
<line x1="169.94" y1="442.44" x2="169.94" y2="455.34" stroke="#000" stroke-width="2.35" />
<line x1="163.59" y1="455.34" x2="176.28" y2="455.34" stroke="#000" stroke-width="2.35" />
<line x1="177.11" y1="438.16" x2="177.11" y2="421.92" stroke="#000" stroke-width="2.35" />
<line x1="170.76" y1="421.92" x2="183.46" y2="421.92" stroke="#000" stroke-width="2.35" />
<line x1="177.11" y1="448.46" x2="177.11" y2="464.7" stroke="#000" stroke-width="2.35" />
<line x1="170.76" y1="464.7" x2="183.46" y2="464.7" stroke="#000" stroke-width="2.35" />
<line x1="184.29" y1="443.24" x2="184.29" y2="424.86" stroke="#000" stroke-width="2.35" />
<line x1="177.94" y1="424.86" x2="190.64" y2="424.86" stroke="#000" stroke-width="2.35" />
<line x1="184.29" y1="453.54" x2="184.29" y2="464.7" stroke="#000" stroke-width="2.35" />
<line x1="213" y1="448.99" x2="213" y2="436.36" stroke="#000" stroke-width="2.35" />
<line x1="206.65" y1="436.36" x2="219.35" y2="436.36" stroke="#000" stroke-width="2.35" />
<line x1="213" y1="459.29" x2="213" y2="464.7" stroke="#000" stroke-width="2.35" />
<line x1="227.35" y1="448.85" x2="227.35" y2="436.36" stroke="#000" stroke-width="2.35" />
<line x1="221" y1="436.36" x2="233.7" y2="436.36" stroke="#000" stroke-width="2.35" />
<line x1="227.35" y1="459.15" x2="227.35" y2="464.7" stroke="#000" stroke-width="2.35" />
<line x1="241.71" y1="450.86" x2="241.71" y2="442.51" stroke="#000" stroke-width="2.35" />
<line x1="235.36" y1="442.51" x2="248.06" y2="442.51" stroke="#000" stroke-width="2.35" />
<line x1="241.71" y1="461.16" x2="241.71" y2="464.7" stroke="#000" stroke-width="2.35" />
<circle cx="134.05" cy="404.94" r="5.15" fill="none" stroke="#000" stroke-width="2.0"/>
<circle cx="141.23" cy="413.23" r="5.15" fill="none" stroke="#000" stroke-width="2.0"/>
<circle cx="155.58" cy="424.59" r="5.15" fill="none" stroke="#000" stroke-width="2.0"/>
<circle cx="162.76" cy="431.27" r="5.15" fill="none" stroke="#000" stroke-width="2.0"/>
<circle cx="169.94" cy="437.29" r="5.15" fill="none" stroke="#000" stroke-width="2.0"/>
<circle cx="177.11" cy="443.31" r="5.15" fill="none" stroke="#000" stroke-width="2.0"/>
<circle cx="184.29" cy="448.39" r="5.15" fill="none" stroke="#000" stroke-width="2.0"/>
<circle cx="213" cy="454.14" r="5.15" fill="none" stroke="#000" stroke-width="2.0"/>
<circle cx="227.35" cy="454" r="5.15" fill="none" stroke="#000" stroke-width="2.0"/>
<circle cx="241.71" cy="456.01" r="5.15" fill="none" stroke="#000" stroke-width="2.0"/>
<circle cx="256.06" cy="464.7" r="5.15" fill="none" stroke="#000" stroke-width="2.0"/>
<circle cx="263.24" cy="464.7" r="5.15" fill="none" stroke="#000" stroke-width="2.0"/>
<circle cx="270.41" cy="464.7" r="5.15" fill="none" stroke="#000" stroke-width="2.0"/>
<polyline fill="none" stroke="#000" stroke-width="2.35" stroke-linejoin="round" points="134.05,404.94 141.23,413.23 155.58,424.59 162.76,431.27 169.94,437.29 177.11,443.31 184.29,448.39 213,454.14 227.35,454 241.71,456.01 256.06,464.7 263.24,464.7 270.41,464.7"/>
<line x1="134.05" y1="401" x2="134.05" y2="397.45" stroke="#000" stroke-width="2.35" />
<line x1="127.7" y1="397.45" x2="140.4" y2="397.45" stroke="#000" stroke-width="2.35" />
<line x1="127.7" y1="409.21" x2="140.4" y2="409.21" stroke="#000" stroke-width="2.35" />
<line x1="141.23" y1="420.39" x2="141.23" y2="411.22" stroke="#000" stroke-width="2.35" />
<line x1="134.88" y1="411.22" x2="147.58" y2="411.22" stroke="#000" stroke-width="2.35" />
<line x1="141.23" y1="429.99" x2="141.23" y2="436.62" stroke="#000" stroke-width="2.35" />
<line x1="134.88" y1="436.62" x2="147.58" y2="436.62" stroke="#000" stroke-width="2.35" />
<line x1="155.58" y1="441.78" x2="155.58" y2="412.56" stroke="#000" stroke-width="2.35" />
<line x1="149.23" y1="412.56" x2="161.93" y2="412.56" stroke="#000" stroke-width="2.35" />
<line x1="155.58" y1="451.38" x2="155.58" y2="454" stroke="#000" stroke-width="2.35" />
<line x1="149.23" y1="454" x2="161.93" y2="454" stroke="#000" stroke-width="2.35" />
<line x1="162.76" y1="447.13" x2="162.76" y2="423.25" stroke="#000" stroke-width="2.35" />
<line x1="156.41" y1="423.25" x2="169.11" y2="423.25" stroke="#000" stroke-width="2.35" />
<line x1="162.76" y1="456.73" x2="162.76" y2="458.01" stroke="#000" stroke-width="2.35" />
<line x1="156.41" y1="458.01" x2="169.11" y2="458.01" stroke="#000" stroke-width="2.35" />
<line x1="169.94" y1="451.81" x2="169.94" y2="423.25" stroke="#000" stroke-width="2.35" />
<line x1="163.59" y1="423.25" x2="176.28" y2="423.25" stroke="#000" stroke-width="2.35" />
<line x1="163.59" y1="461.36" x2="176.28" y2="461.36" stroke="#000" stroke-width="2.35" />
<line x1="177.11" y1="455.82" x2="177.11" y2="426.6" stroke="#000" stroke-width="2.35" />
<line x1="170.76" y1="426.6" x2="183.46" y2="426.6" stroke="#000" stroke-width="2.35" />
<line x1="170.76" y1="464.03" x2="183.46" y2="464.03" stroke="#000" stroke-width="2.35" />
<path d="M129.35 401L138.75 401L134.05 410.6Z" fill="none" stroke="#000" stroke-width="2.0" stroke-miterlimit="6"/>
<path d="M136.53 420.39L145.93 420.39L141.23 429.99Z" fill="none" stroke="#000" stroke-width="2.0" stroke-miterlimit="6"/>
<path d="M150.88 441.78L160.28 441.78L155.58 451.38Z" fill="none" stroke="#000" stroke-width="2.0" stroke-miterlimit="6"/>
<path d="M158.06 447.13L167.46 447.13L162.76 456.73Z" fill="none" stroke="#000" stroke-width="2.0" stroke-miterlimit="6"/>
<path d="M165.24 451.81L174.63 451.81L169.94 461.41Z" fill="none" stroke="#000" stroke-width="2.0" stroke-miterlimit="6"/>
<path d="M172.41 455.82L181.81 455.82L177.11 465.42Z" fill="none" stroke="#000" stroke-width="2.0" stroke-miterlimit="6"/>
<path d="M179.59 460.5L188.99 460.5L184.29 470.1Z" fill="none" stroke="#000" stroke-width="2.0" stroke-miterlimit="6"/>
<polyline fill="none" stroke="#000" stroke-width="2.35" stroke-linejoin="round" points="134.05,405.2 141.23,424.59 155.58,445.98 162.76,451.33 169.94,456.01 177.11,460.02 184.29,464.7"/>
<line x1="127.7" y1="402.13" x2="140.4" y2="402.13" stroke="#000" stroke-width="2.35" />
<line x1="127.7" y1="410.15" x2="140.4" y2="410.15" stroke="#000" stroke-width="2.35" />
<line x1="141.23" y1="416.82" x2="141.23" y2="407.21" stroke="#000" stroke-width="2.35" />
<line x1="134.88" y1="407.21" x2="147.58" y2="407.21" stroke="#000" stroke-width="2.35" />
<line x1="141.23" y1="427.02" x2="141.23" y2="432.61" stroke="#000" stroke-width="2.35" />
<line x1="134.88" y1="432.61" x2="147.58" y2="432.61" stroke="#000" stroke-width="2.35" />
<line x1="155.58" y1="436.2" x2="155.58" y2="412.56" stroke="#000" stroke-width="2.35" />
<line x1="149.23" y1="412.56" x2="161.93" y2="412.56" stroke="#000" stroke-width="2.35" />
<line x1="155.58" y1="446.4" x2="155.58" y2="450.66" stroke="#000" stroke-width="2.35" />
<line x1="149.23" y1="450.66" x2="161.93" y2="450.66" stroke="#000" stroke-width="2.35" />
<line x1="162.76" y1="442.22" x2="162.76" y2="427.26" stroke="#000" stroke-width="2.35" />
<line x1="156.41" y1="427.26" x2="169.11" y2="427.26" stroke="#000" stroke-width="2.35" />
<line x1="162.76" y1="452.42" x2="162.76" y2="455.34" stroke="#000" stroke-width="2.35" />
<line x1="156.41" y1="455.34" x2="169.11" y2="455.34" stroke="#000" stroke-width="2.35" />
<line x1="169.94" y1="446.9" x2="169.94" y2="434.62" stroke="#000" stroke-width="2.35" />
<line x1="163.59" y1="434.62" x2="176.28" y2="434.62" stroke="#000" stroke-width="2.35" />
<line x1="169.94" y1="457.1" x2="169.94" y2="458.68" stroke="#000" stroke-width="2.35" />
<line x1="163.59" y1="458.68" x2="176.28" y2="458.68" stroke="#000" stroke-width="2.35" />
<line x1="177.11" y1="451.58" x2="177.11" y2="443.31" stroke="#000" stroke-width="2.35" />
<line x1="170.76" y1="443.31" x2="183.46" y2="443.31" stroke="#000" stroke-width="2.35" />
<line x1="177.11" y1="461.78" x2="177.11" y2="462.03" stroke="#000" stroke-width="2.35" />
<line x1="170.76" y1="462.03" x2="183.46" y2="462.03" stroke="#000" stroke-width="2.35" />
<path d="M128.65 406.14L134.05 401.04L139.45 406.14L134.05 411.24Z" fill="none" stroke="#000" stroke-width="2.0" stroke-miterlimit="6"/>
<path d="M135.83 421.92L141.23 416.82L146.63 421.92L141.23 427.02Z" fill="none" stroke="#000" stroke-width="2.0" stroke-miterlimit="6"/>
<path d="M150.18 441.3L155.58 436.2L160.98 441.3L155.58 446.4Z" fill="none" stroke="#000" stroke-width="2.0" stroke-miterlimit="6"/>
<path d="M157.36 447.32L162.76 442.22L168.16 447.32L162.76 452.42Z" fill="none" stroke="#000" stroke-width="2.0" stroke-miterlimit="6"/>
<path d="M164.53 452L169.94 446.9L175.34 452L169.94 457.1Z" fill="none" stroke="#000" stroke-width="2.0" stroke-miterlimit="6"/>
<path d="M171.71 456.68L177.11 451.58L182.51 456.68L177.11 461.78Z" fill="none" stroke="#000" stroke-width="2.0" stroke-miterlimit="6"/>
<polyline fill="none" stroke="#000" stroke-width="2.35" stroke-linejoin="round" points="134.05,406.14 141.23,421.92 155.58,441.3 162.76,447.32 169.94,452 177.11,456.68"/>
<line x1="58.3" y1="594.2" x2="72.7" y2="594.2" stroke="#000" stroke-width="2.05" />
<circle cx="65.5" cy="594.2" r="5" fill="none" stroke="#000" stroke-width="2.05"/>
<text transform="translate(79.3,599.6) rotate(0.03) scale(1,1.03)" font-size="25.3" font-family="Liberation Sans, sans-serif" fill="#000" stroke="#000" stroke-width="0.55" stroke-linejoin="round">H<tspan font-size="19.23" dy="4.55">2</tspan><tspan dy="-4.55"> (Control)</tspan></text>
<line x1="240.2" y1="592.7" x2="254.6" y2="592.7" stroke="#000" stroke-width="2.05" />
<path d="M242.4 587.5L252.4 587.5L247.4 598.3Z" fill="none" stroke="#000" stroke-width="2.05"/>
<text transform="translate(261.8,599.6) rotate(0.03) scale(1,1.03)" font-size="25.3" font-family="Liberation Sans, sans-serif" fill="#000" stroke="#000" stroke-width="0.55" stroke-linejoin="round">H<tspan font-size="19.23" dy="4.55">2</tspan><tspan dy="-4.55"> (-nZVI, H</tspan><tspan font-size="19.23" dy="4.55">2</tspan><tspan dy="-4.55">)</tspan></text>
<line x1="453.6" y1="594.3" x2="468" y2="594.3" stroke="#000" stroke-width="2.05" />
<path d="M455.2 594.3L460.8 588.8L466.4 594.3L460.8 599.8Z" fill="none" stroke="#000" stroke-width="2.05"/>
<text transform="translate(474.3,599.6) rotate(0.03) scale(1,1.03)" font-size="25.3" font-family="Liberation Sans, sans-serif" fill="#000" stroke="#000" stroke-width="0.55" stroke-linejoin="round">H<tspan font-size="19.23" dy="4.55">2</tspan><tspan dy="-4.55"> (-nZVI, -H</tspan><tspan font-size="19.23" dy="4.55">2</tspan><tspan dy="-4.55">)</tspan></text>
<line x1="134.05" y1="644.52" x2="134.05" y2="986.55" stroke="#000" stroke-width="2.5" />
<line x1="132.8" y1="985.3" x2="645" y2="985.3" stroke="#000" stroke-width="2.5" />
<line x1="127.25" y1="985.3" x2="134.05" y2="985.3" stroke="#000" stroke-width="2.3" />
<line x1="130.45" y1="969.86" x2="134.05" y2="969.86" stroke="#000" stroke-width="1.8" />
<line x1="130.45" y1="954.42" x2="134.05" y2="954.42" stroke="#000" stroke-width="1.8" />
<line x1="130.45" y1="938.98" x2="134.05" y2="938.98" stroke="#000" stroke-width="1.8" />
<line x1="130.45" y1="923.54" x2="134.05" y2="923.54" stroke="#000" stroke-width="1.8" />
<line x1="130.45" y1="908.1" x2="134.05" y2="908.1" stroke="#000" stroke-width="1.8" />
<line x1="130.45" y1="892.66" x2="134.05" y2="892.66" stroke="#000" stroke-width="1.8" />
<line x1="130.45" y1="877.22" x2="134.05" y2="877.22" stroke="#000" stroke-width="1.8" />
<line x1="130.45" y1="861.78" x2="134.05" y2="861.78" stroke="#000" stroke-width="1.8" />
<line x1="130.45" y1="846.34" x2="134.05" y2="846.34" stroke="#000" stroke-width="1.8" />
<line x1="127.25" y1="830.9" x2="134.05" y2="830.9" stroke="#000" stroke-width="2.3" />
<line x1="130.45" y1="815.46" x2="134.05" y2="815.46" stroke="#000" stroke-width="1.8" />
<line x1="130.45" y1="800.02" x2="134.05" y2="800.02" stroke="#000" stroke-width="1.8" />
<line x1="130.45" y1="784.58" x2="134.05" y2="784.58" stroke="#000" stroke-width="1.8" />
<line x1="130.45" y1="769.14" x2="134.05" y2="769.14" stroke="#000" stroke-width="1.8" />
<line x1="130.45" y1="753.7" x2="134.05" y2="753.7" stroke="#000" stroke-width="1.8" />
<line x1="130.45" y1="738.26" x2="134.05" y2="738.26" stroke="#000" stroke-width="1.8" />
<line x1="130.45" y1="722.82" x2="134.05" y2="722.82" stroke="#000" stroke-width="1.8" />
<line x1="130.45" y1="707.38" x2="134.05" y2="707.38" stroke="#000" stroke-width="1.8" />
<line x1="130.45" y1="691.94" x2="134.05" y2="691.94" stroke="#000" stroke-width="1.8" />
<line x1="127.25" y1="676.5" x2="134.05" y2="676.5" stroke="#000" stroke-width="2.3" />
<line x1="130.45" y1="661.06" x2="134.05" y2="661.06" stroke="#000" stroke-width="1.8" />
<line x1="130.45" y1="645.62" x2="134.05" y2="645.62" stroke="#000" stroke-width="1.8" />
<line x1="134.05" y1="985.3" x2="134.05" y2="991.5" stroke="#000" stroke-width="2.4" />
<line x1="148.59" y1="985.3" x2="148.59" y2="988.9" stroke="#000" stroke-width="2.2" />
<line x1="163.13" y1="985.3" x2="163.13" y2="988.9" stroke="#000" stroke-width="2.2" />
<line x1="177.67" y1="985.3" x2="177.67" y2="988.9" stroke="#000" stroke-width="2.2" />
<line x1="192.21" y1="985.3" x2="192.21" y2="988.9" stroke="#000" stroke-width="2.2" />
<line x1="206.75" y1="985.3" x2="206.75" y2="988.9" stroke="#000" stroke-width="2.2" />
<line x1="221.29" y1="985.3" x2="221.29" y2="988.9" stroke="#000" stroke-width="2.2" />
<line x1="235.83" y1="985.3" x2="235.83" y2="988.9" stroke="#000" stroke-width="2.2" />
<line x1="250.37" y1="985.3" x2="250.37" y2="988.9" stroke="#000" stroke-width="2.2" />
<line x1="264.91" y1="985.3" x2="264.91" y2="988.9" stroke="#000" stroke-width="2.2" />
<line x1="279.45" y1="985.3" x2="279.45" y2="991.5" stroke="#000" stroke-width="2.4" />
<line x1="293.99" y1="985.3" x2="293.99" y2="988.9" stroke="#000" stroke-width="2.2" />
<line x1="308.53" y1="985.3" x2="308.53" y2="988.9" stroke="#000" stroke-width="2.2" />
<line x1="323.07" y1="985.3" x2="323.07" y2="988.9" stroke="#000" stroke-width="2.2" />
<line x1="337.61" y1="985.3" x2="337.61" y2="988.9" stroke="#000" stroke-width="2.2" />
<line x1="352.15" y1="985.3" x2="352.15" y2="988.9" stroke="#000" stroke-width="2.2" />
<line x1="366.69" y1="985.3" x2="366.69" y2="988.9" stroke="#000" stroke-width="2.2" />
<line x1="381.23" y1="985.3" x2="381.23" y2="988.9" stroke="#000" stroke-width="2.2" />
<line x1="395.77" y1="985.3" x2="395.77" y2="988.9" stroke="#000" stroke-width="2.2" />
<line x1="410.31" y1="985.3" x2="410.31" y2="988.9" stroke="#000" stroke-width="2.2" />
<line x1="424.85" y1="985.3" x2="424.85" y2="991.5" stroke="#000" stroke-width="2.4" />
<line x1="439.39" y1="985.3" x2="439.39" y2="988.9" stroke="#000" stroke-width="2.2" />
<line x1="453.93" y1="985.3" x2="453.93" y2="988.9" stroke="#000" stroke-width="2.2" />
<line x1="468.47" y1="985.3" x2="468.47" y2="988.9" stroke="#000" stroke-width="2.2" />
<line x1="483.01" y1="985.3" x2="483.01" y2="988.9" stroke="#000" stroke-width="2.2" />
<line x1="497.55" y1="985.3" x2="497.55" y2="988.9" stroke="#000" stroke-width="2.2" />
<line x1="512.09" y1="985.3" x2="512.09" y2="988.9" stroke="#000" stroke-width="2.2" />
<line x1="526.63" y1="985.3" x2="526.63" y2="988.9" stroke="#000" stroke-width="2.2" />
<line x1="541.17" y1="985.3" x2="541.17" y2="988.9" stroke="#000" stroke-width="2.2" />
<line x1="555.71" y1="985.3" x2="555.71" y2="988.9" stroke="#000" stroke-width="2.2" />
<line x1="570.25" y1="985.3" x2="570.25" y2="991.5" stroke="#000" stroke-width="2.4" />
<line x1="584.79" y1="985.3" x2="584.79" y2="988.9" stroke="#000" stroke-width="2.2" />
<line x1="599.33" y1="985.3" x2="599.33" y2="988.9" stroke="#000" stroke-width="2.2" />
<line x1="613.87" y1="985.3" x2="613.87" y2="988.9" stroke="#000" stroke-width="2.2" />
<line x1="628.41" y1="985.3" x2="628.41" y2="988.9" stroke="#000" stroke-width="2.2" />
<line x1="642.95" y1="985.3" x2="642.95" y2="988.9" stroke="#000" stroke-width="2.2" />
<text transform="translate(112.62,994.8) rotate(0.03) scale(1,1.04)" font-size="25.6" font-family="Liberation Sans, sans-serif" font-weight="bold" stroke="#000" stroke-width="0.8" stroke-linejoin="round" text-anchor="start" fill="#000">0</text>
<text transform="translate(69.92,840.4) rotate(0.03) scale(1,1.04)" font-size="25.6" font-family="Liberation Sans, sans-serif" font-weight="bold" stroke="#000" stroke-width="0.8" stroke-linejoin="round" text-anchor="start" fill="#000">5000</text>
<path transform="translate(55.68,686) scale(0.01250,-0.01300)" d="M806 0H525V1059Q371 915 162 846V1101Q272 1137 401 1237.5T578 1472H806Z" fill="#000" stroke="#000" stroke-width="56.0" stroke-linejoin="round"/>
<text transform="translate(69.92,686) rotate(0.03) scale(1,1.04)" font-size="25.6" font-family="Liberation Sans, sans-serif" font-weight="bold" stroke="#000" stroke-width="0.8" stroke-linejoin="round" text-anchor="start" fill="#000">0000</text>
<text transform="translate(127.1,1017.1) rotate(0.03) scale(1,1.04)" font-size="25.0" font-family="Liberation Sans, sans-serif" font-weight="bold" stroke="#000" stroke-width="0.8" stroke-linejoin="round" text-anchor="start" fill="#000">0</text>
<text transform="translate(265.55,1017.1) rotate(0.03) scale(1,1.04)" font-size="25.0" font-family="Liberation Sans, sans-serif" font-weight="bold" stroke="#000" stroke-width="0.8" stroke-linejoin="round" text-anchor="start" fill="#000">20</text>
<text transform="translate(410.95,1017.1) rotate(0.03) scale(1,1.04)" font-size="25.0" font-family="Liberation Sans, sans-serif" font-weight="bold" stroke="#000" stroke-width="0.8" stroke-linejoin="round" text-anchor="start" fill="#000">40</text>
<text transform="translate(556.35,1017.1) rotate(0.03) scale(1,1.04)" font-size="25.0" font-family="Liberation Sans, sans-serif" font-weight="bold" stroke="#000" stroke-width="0.8" stroke-linejoin="round" text-anchor="start" fill="#000">60</text>
<text transform="translate(389.5,1054.1) rotate(0.03) scale(1,1.075)" font-size="28.55" font-family="Liberation Sans, sans-serif" font-weight="bold" stroke="#000" stroke-width="0.8" stroke-linejoin="round" text-anchor="middle" fill="#000" >Time (d)</text>
<text transform="translate(37.8,951.75) rotate(-89.97) scale(1,1.035)" font-size="28.1" font-family="Liberation Sans, sans-serif" font-weight="bold" stroke="#000" stroke-width="0.8" stroke-linejoin="round" text-anchor="start" fill="#000">H<tspan font-size="20.6" dy="5.6">2</tspan><tspan dy="-5.6"> concentration (µM)</tspan></text>
<path d="M179.6 644.6L183.4 644.6A1.9 1.9 0 0 1 179.6 644.6Z" fill="#000"/>
<circle cx="181.5" cy="654.57" r="1.9" fill="#000"/>
<circle cx="181.5" cy="664.14" r="1.9" fill="#000"/>
<circle cx="181.5" cy="673.71" r="1.9" fill="#000"/>
<circle cx="181.5" cy="683.28" r="1.9" fill="#000"/>
<circle cx="181.5" cy="692.85" r="1.9" fill="#000"/>
<circle cx="181.5" cy="702.42" r="1.9" fill="#000"/>
<circle cx="181.5" cy="711.99" r="1.9" fill="#000"/>
<circle cx="181.5" cy="721.56" r="1.9" fill="#000"/>
<circle cx="181.5" cy="731.13" r="1.9" fill="#000"/>
<circle cx="181.5" cy="740.7" r="1.9" fill="#000"/>
<circle cx="181.5" cy="750.27" r="1.9" fill="#000"/>
<circle cx="181.5" cy="759.84" r="1.9" fill="#000"/>
<circle cx="181.5" cy="769.41" r="1.9" fill="#000"/>
<circle cx="181.5" cy="778.98" r="1.9" fill="#000"/>
<circle cx="181.5" cy="788.55" r="1.9" fill="#000"/>
<circle cx="181.5" cy="798.12" r="1.9" fill="#000"/>
<circle cx="181.5" cy="807.69" r="1.9" fill="#000"/>
<circle cx="181.5" cy="817.26" r="1.9" fill="#000"/>
<circle cx="181.5" cy="826.83" r="1.9" fill="#000"/>
<circle cx="181.5" cy="836.4" r="1.9" fill="#000"/>
<circle cx="181.5" cy="845.97" r="1.9" fill="#000"/>
<circle cx="181.5" cy="855.54" r="1.9" fill="#000"/>
<circle cx="181.5" cy="865.11" r="1.9" fill="#000"/>
<circle cx="181.5" cy="874.68" r="1.9" fill="#000"/>
<circle cx="181.5" cy="884.25" r="1.9" fill="#000"/>
<circle cx="181.5" cy="893.82" r="1.9" fill="#000"/>
<circle cx="181.5" cy="903.39" r="1.9" fill="#000"/>
<circle cx="181.5" cy="912.96" r="1.9" fill="#000"/>
<circle cx="181.5" cy="922.53" r="1.9" fill="#000"/>
<circle cx="181.5" cy="932.1" r="1.9" fill="#000"/>
<circle cx="181.5" cy="941.67" r="1.9" fill="#000"/>
<circle cx="181.5" cy="951.24" r="1.9" fill="#000"/>
<circle cx="181.5" cy="960.81" r="1.9" fill="#000"/>
<circle cx="181.5" cy="970.38" r="1.9" fill="#000"/>
<circle cx="181.5" cy="979.95" r="1.9" fill="#000"/>
<path transform="translate(146.4,666.4) scale(0.01001,-0.01041)" d="M806 0H525V1059Q371 915 162 846V1101Q272 1137 401 1237.5T578 1472H806Z" fill="#000" stroke="#000" stroke-width="69.9" stroke-linejoin="round"/>
<text transform="translate(194.2,666.4) rotate(0.03) scale(1,1.04)" font-size="20.5" font-family="Liberation Sans, sans-serif" font-weight="bold" stroke="#000" stroke-width="0.8" stroke-linejoin="round" text-anchor="start" fill="#000" >2</text>
<line x1="177.67" y1="841.2" x2="177.67" y2="821.94" stroke="#000" stroke-width="2.4" />
<line x1="171.32" y1="821.94" x2="184.02" y2="821.94" stroke="#000" stroke-width="2.4" />
<line x1="177.67" y1="853.4" x2="177.67" y2="864.99" stroke="#000" stroke-width="2.4" />
<line x1="171.32" y1="864.99" x2="184.02" y2="864.99" stroke="#000" stroke-width="2.4" />
<line x1="475.74" y1="686.58" x2="475.74" y2="671.37" stroke="#000" stroke-width="2.4" />
<line x1="469.39" y1="671.37" x2="482.09" y2="671.37" stroke="#000" stroke-width="2.4" />
<line x1="475.74" y1="698.78" x2="475.74" y2="713.99" stroke="#000" stroke-width="2.4" />
<line x1="469.39" y1="713.99" x2="482.09" y2="713.99" stroke="#000" stroke-width="2.4" />
<circle cx="177.67" cy="847.3" r="6.1" fill="none" stroke="#000" stroke-width="2.55"/>
<circle cx="475.74" cy="692.68" r="6.1" fill="none" stroke="#000" stroke-width="2.55"/>
<polyline fill="none" stroke="#000" stroke-width="2.4" stroke-linejoin="round" points="177.67,847.3 475.74,692.68"/>
<line x1="177.67" y1="838.4" x2="177.67" y2="810.83" stroke="#000" stroke-width="2.4" />
<line x1="171.32" y1="810.83" x2="184.02" y2="810.83" stroke="#000" stroke-width="2.4" />
<line x1="177.67" y1="848" x2="177.67" y2="883.3" stroke="#000" stroke-width="2.4" />
<line x1="171.32" y1="883.3" x2="184.02" y2="883.3" stroke="#000" stroke-width="2.4" />
<line x1="184.94" y1="854.62" x2="184.94" y2="834.61" stroke="#000" stroke-width="2.4" />
<line x1="178.59" y1="834.61" x2="191.29" y2="834.61" stroke="#000" stroke-width="2.4" />
<line x1="184.94" y1="864.22" x2="184.94" y2="883.89" stroke="#000" stroke-width="2.4" />
<line x1="178.59" y1="883.89" x2="191.29" y2="883.89" stroke="#000" stroke-width="2.4" />
<line x1="264.91" y1="928.7" x2="264.91" y2="908.19" stroke="#000" stroke-width="2.4" />
<line x1="258.56" y1="908.19" x2="271.26" y2="908.19" stroke="#000" stroke-width="2.4" />
<line x1="264.91" y1="938.3" x2="264.91" y2="958.31" stroke="#000" stroke-width="2.4" />
<line x1="258.56" y1="958.31" x2="271.26" y2="958.31" stroke="#000" stroke-width="2.4" />
<line x1="272.18" y1="847.51" x2="272.18" y2="815.49" stroke="#000" stroke-width="2.4" />
<line x1="265.83" y1="815.49" x2="278.53" y2="815.49" stroke="#000" stroke-width="2.4" />
<line x1="272.18" y1="857.11" x2="272.18" y2="887.81" stroke="#000" stroke-width="2.4" />
<line x1="265.83" y1="887.81" x2="278.53" y2="887.81" stroke="#000" stroke-width="2.4" />
<line x1="475.74" y1="875.71" x2="475.74" y2="832.75" stroke="#000" stroke-width="2.4" />
<line x1="469.39" y1="832.75" x2="482.09" y2="832.75" stroke="#000" stroke-width="2.4" />
<line x1="475.74" y1="885.31" x2="475.74" y2="930.74" stroke="#000" stroke-width="2.4" />
<line x1="469.39" y1="930.74" x2="482.09" y2="930.74" stroke="#000" stroke-width="2.4" />
<path d="M172.07 838.4L183.27 838.4L177.67 848Z" fill="none" stroke="#000" stroke-width="2.55" stroke-miterlimit="6"/>
<path d="M179.34 854.62L190.54 854.62L184.94 864.22Z" fill="none" stroke="#000" stroke-width="2.55" stroke-miterlimit="6"/>
<path d="M259.31 928.7L270.51 928.7L264.91 938.3Z" fill="none" stroke="#000" stroke-width="2.55" stroke-miterlimit="6"/>
<path d="M266.58 847.51L277.78 847.51L272.18 857.11Z" fill="none" stroke="#000" stroke-width="2.55" stroke-miterlimit="6"/>
<path d="M470.14 875.71L481.34 875.71L475.74 885.31Z" fill="none" stroke="#000" stroke-width="2.55" stroke-miterlimit="6"/>
<polyline fill="none" stroke="#000" stroke-width="2.4" stroke-linejoin="round" points="177.67,844.7 184.94,860.92 264.91,935 272.18,853.81 475.74,882.01"/>
<line x1="177.67" y1="889.3" x2="177.67" y2="883.3" stroke="#000" stroke-width="2.4" />
<line x1="171.32" y1="883.3" x2="184.02" y2="883.3" stroke="#000" stroke-width="2.4" />
<line x1="177.67" y1="900.1" x2="177.67" y2="907.11" stroke="#000" stroke-width="2.4" />
<line x1="171.32" y1="907.11" x2="184.02" y2="907.11" stroke="#000" stroke-width="2.4" />
<line x1="337.61" y1="969.89" x2="337.61" y2="966.03" stroke="#000" stroke-width="2.4" />
<line x1="331.26" y1="966.03" x2="343.96" y2="966.03" stroke="#000" stroke-width="2.4" />
<line x1="337.61" y1="980.69" x2="337.61" y2="984.56" stroke="#000" stroke-width="2.4" />
<line x1="331.26" y1="984.56" x2="343.96" y2="984.56" stroke="#000" stroke-width="2.4" />
<path d="M172.07 894.7L177.67 889.3L183.27 894.7L177.67 900.1Z" fill="none" stroke="#000" stroke-width="2.55" stroke-miterlimit="6"/>
<path d="M332.01 975.29L337.61 969.89L343.21 975.29L337.61 980.69Z" fill="none" stroke="#000" stroke-width="2.55" stroke-miterlimit="6"/>
<path d="M470.14 983.14L475.74 977.74L481.34 983.14L475.74 988.54Z" fill="none" stroke="#000" stroke-width="2.55" stroke-miterlimit="6"/>
<polyline fill="none" stroke="#000" stroke-width="2.4" stroke-linejoin="round" points="177.67,894.7 337.61,975.29 475.74,983.14"/>
</svg>
</body></html>
